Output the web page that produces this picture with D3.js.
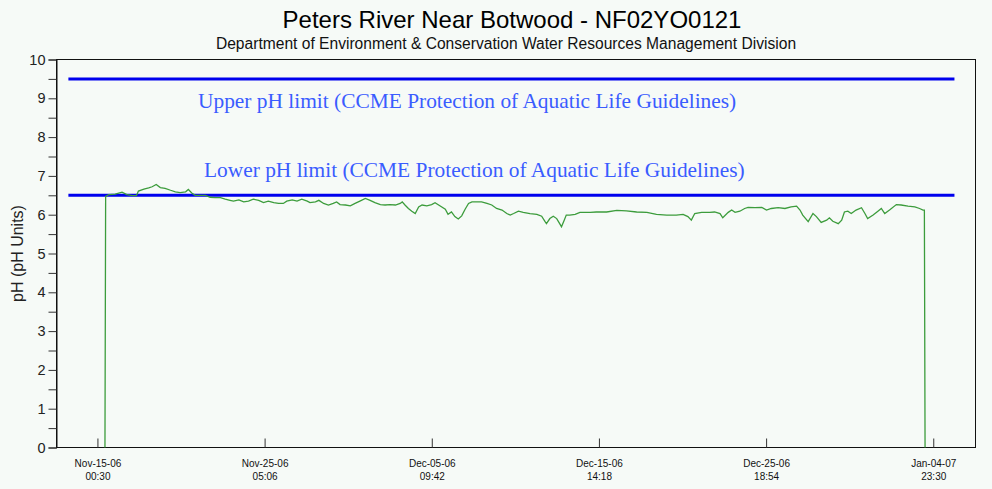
<!DOCTYPE html>
<html>
<head>
<meta charset="utf-8">
<script src="https://cdn.jsdelivr.net/npm/d3@7"></script>
<style>
  html, body { margin: 0; padding: 0; background: #f6faf7; }
  svg { display: block; }
</style>
</head>
<body>
<svg id="chart" width="992" height="489"></svg>
<script>
// ---- Text ----
const chartTitle = "Peters River Near Botwood - NF02YO0121";
const chartSubtitle = "Department of Environment & Conservation Water Resources Management Division";
const yAxisTitle = "pH (pH Units)";

// ---- Series: hours after the series start, and the pH reading at that time ----
const seriesStart = "2006-11-15 00:30";
const hourOffsets = [
  11, 12, 17, 26, 36, 43, 51, 57, 60, 68, 75, 80, 86, 92, 99, 107, 114, 121, 129, 133,
  138, 143, 151, 158, 165, 172, 180, 187, 194, 199, 207, 214, 221, 228, 236, 243, 250, 258, 265, 272,
  277, 285, 292, 299, 307, 311, 319, 324, 331, 338, 345, 350, 355, 363, 370, 377, 384, 392, 399, 406,
  414, 421, 428, 436, 443, 446, 450, 455, 460, 465, 470, 475, 482, 489, 494, 501, 509, 513, 518, 523,
  528, 533, 538, 543, 548, 555, 562, 570, 577, 584, 592, 599, 604, 609, 616, 623, 633, 643, 650, 655,
  657, 662, 667, 672, 677, 679, 683, 686, 691, 699, 706, 721, 730, 745, 760, 774, 789, 804, 818, 833,
  847, 857, 864, 869, 874, 884, 896, 903, 911, 915, 923, 928, 933, 940, 947, 952, 962, 972, 979, 986,
  996, 1006, 1015, 1023, 1028, 1032, 1040, 1047, 1052, 1059, 1067, 1071, 1076, 1084, 1089, 1093, 1098, 1103, 1110, 1118,
  1123, 1127, 1135, 1142, 1147, 1152, 1159, 1169, 1176, 1186, 1196, 1203, 1208, 1210, 1211
];
const phValues = [
  0, 6.47, 6.52, 6.53, 6.58, 6.52, 6.49, 6.49, 6.61, 6.66, 6.69, 6.72, 6.78, 6.70, 6.68, 6.63, 6.59, 6.57, 6.59, 6.65,
  6.56, 6.50, 6.50, 6.50, 6.45, 6.44, 6.44, 6.40, 6.37, 6.35, 6.38, 6.33, 6.35, 6.40, 6.37, 6.31, 6.35, 6.31, 6.29, 6.29,
  6.35, 6.38, 6.35, 6.40, 6.35, 6.31, 6.33, 6.37, 6.29, 6.25, 6.29, 6.33, 6.26, 6.25, 6.23, 6.29, 6.35, 6.42, 6.37, 6.31,
  6.26, 6.25, 6.26, 6.25, 6.29, 6.33, 6.25, 6.16, 6.09, 6.03, 6.20, 6.25, 6.23, 6.26, 6.31, 6.23, 6.14, 6.01, 6.07, 5.95,
  5.89, 5.97, 6.14, 6.29, 6.33, 6.33, 6.33, 6.29, 6.25, 6.16, 6.12, 6.03, 5.99, 6.03, 6.09, 6.06, 6.03, 6.01, 5.96, 5.82,
  5.77, 5.90, 5.96, 5.90, 5.75, 5.69, 5.86, 5.99, 5.99, 6.01, 6.06, 6.06, 6.07, 6.07, 6.11, 6.10, 6.07, 6.06, 6.01, 5.99,
  5.99, 6.01, 5.95, 5.86, 6.03, 6.06, 6.06, 6.07, 6.03, 5.92, 6.06, 6.12, 6.06, 6.09, 6.16, 6.19, 6.18, 6.19, 6.12, 6.16,
  6.18, 6.16, 6.20, 6.22, 6.12, 5.99, 5.82, 6.03, 5.95, 5.80, 5.86, 5.92, 5.83, 5.77, 5.86, 6.07, 6.09, 6.03, 6.12, 6.18,
  6.03, 5.90, 5.99, 6.09, 6.16, 6.03, 6.12, 6.26, 6.25, 6.22, 6.20, 6.16, 6.12, 6.12, 0
];

// ---- Guideline limits ----
const limitLabels = [
  "Upper pH limit (CCME Protection of Aquatic Life Guidelines)",
  "Lower pH limit (CCME Protection of Aquatic Life Guidelines)"
];
const limitValues = [9.5, 6.5];
const limitSpan = ["2006-11-13 06:00", "2007-01-06 06:30"];

// ---- Axes ----
const timeDomain = ["2006-11-12 12:36", "2007-01-07 13:18"];
const tickTimes = ["2006-11-15 00:30", "2006-11-25 05:06", "2006-12-05 09:42",
                   "2006-12-15 14:18", "2006-12-25 18:54", "2007-01-04 23:30"];
const tickDateLabels = ["Nov-15-06", "Nov-25-06", "Dec-05-06", "Dec-15-06", "Dec-25-06", "Jan-04-07"];
const tickTimeLabels = ["00:30", "05:06", "09:42", "14:18", "18:54", "23:30"];
const yDomain = [0, 10];

// ---- Drawing ----
const parse = d3.timeParse("%Y-%m-%d %H:%M");
const svg = d3.select("#chart");
const W = 992, H = 489;
const plot = { left: 56.5, right: 975.5, top: 59.5, bottom: 447.5 };
const sans = "Liberation Sans, Arial, sans-serif";
const serif = "Liberation Serif, Times New Roman, serif";

svg.append("rect").attr("width", W).attr("height", H).attr("fill", "#f6faf7");

const x = d3.scaleTime().domain(timeDomain.map(parse)).range([plot.left, plot.right]);
const y = d3.scaleLinear().domain(yDomain).range([plot.bottom, plot.top]);

// titles
svg.append("text")
  .attr("x", 512).attr("y", 28)
  .attr("text-anchor", "middle")
  .style("font-family", sans).style("font-size", "24px")
  .attr("fill", "#000")
  .text(chartTitle);
svg.append("text")
  .attr("x", 506).attr("y", 49)
  .attr("text-anchor", "middle")
  .style("font-family", sans).style("font-size", "15.6px")
  .attr("fill", "#111")
  .text(chartSubtitle);

// plot frame
svg.append("rect")
  .attr("x", plot.left).attr("y", plot.top)
  .attr("width", plot.right - plot.left).attr("height", plot.bottom - plot.top)
  .attr("fill", "none").attr("stroke", "#111").attr("stroke-width", 1);

// y axis with half-unit ticks
const yAxis = d3.axisLeft(y)
  .tickValues(d3.range(0, 10.001, 0.5))
  .tickSize(8).tickPadding(3)
  .tickFormat(d => Number.isInteger(d) ? d3.format("d")(d) : "");
const gy = svg.append("g").attr("transform", `translate(${plot.left},0)`).call(yAxis);
gy.select(".domain").attr("stroke", "#111");
gy.selectAll(".tick line").attr("stroke", "#333");
gy.selectAll(".tick text")
  .style("font-family", sans).style("font-size", "14.5px").attr("fill", "#222");

svg.append("text")
  .attr("transform", `translate(23,${(plot.top + plot.bottom) / 2}) rotate(-90)`)
  .attr("text-anchor", "middle")
  .style("font-family", sans).style("font-size", "16px").attr("fill", "#222")
  .text(yAxisTitle);

// x axis: ticks point up into the plot, two-line labels below
const xAxis = d3.axisBottom(x)
  .tickValues(tickTimes.map(parse))
  .tickSizeInner(-9).tickSizeOuter(0)
  .tickFormat("");
const gx = svg.append("g").attr("transform", `translate(0,${plot.bottom})`).call(xAxis);
gx.select(".domain").remove();
gx.selectAll(".tick line").attr("stroke", "#333");
gx.selectAll(".tick").each(function (d, i) {
  const t = d3.select(this).append("text")
    .attr("text-anchor", "middle")
    .style("font-family", sans).style("font-size", "10px").attr("fill", "#111");
  t.append("tspan").attr("x", 0).attr("y", 19).text(tickDateLabels[i]);
  t.append("tspan").attr("x", 0).attr("y", 32).text(tickTimeLabels[i]);
});

// guideline lines
const spanX = limitSpan.map(parse).map(x);
limitValues.forEach(v => {
  svg.append("line")
    .attr("x1", spanX[0]).attr("x2", spanX[1])
    .attr("y1", y(v)).attr("y2", y(v))
    .attr("stroke", "#0000ee").attr("stroke-width", 3);
});

// pH series
const t0 = parse(seriesStart);
const series = hourOffsets.map((h, i) => ({ t: d3.timeHour.offset(t0, h), v: phValues[i] }));
svg.append("path")
  .datum(series)
  .attr("fill", "none")
  .attr("stroke", "#3c9c3c")
  .attr("stroke-width", 1.3)
  .attr("d", d3.line().x(d => x(d.t)).y(d => y(d.v)));

// guideline captions
svg.append("text")
  .attr("x", 198).attr("y", y(limitValues[0]) + 29)
  .style("font-family", serif).style("font-size", "21.4px").attr("fill", "#3a5cff")
  .text(limitLabels[0]);
svg.append("text")
  .attr("x", 204).attr("y", y(limitValues[1]) - 18)
  .style("font-family", serif).style("font-size", "21.4px").attr("fill", "#3a5cff")
  .text(limitLabels[1]);
</script>
</body>
</html>
